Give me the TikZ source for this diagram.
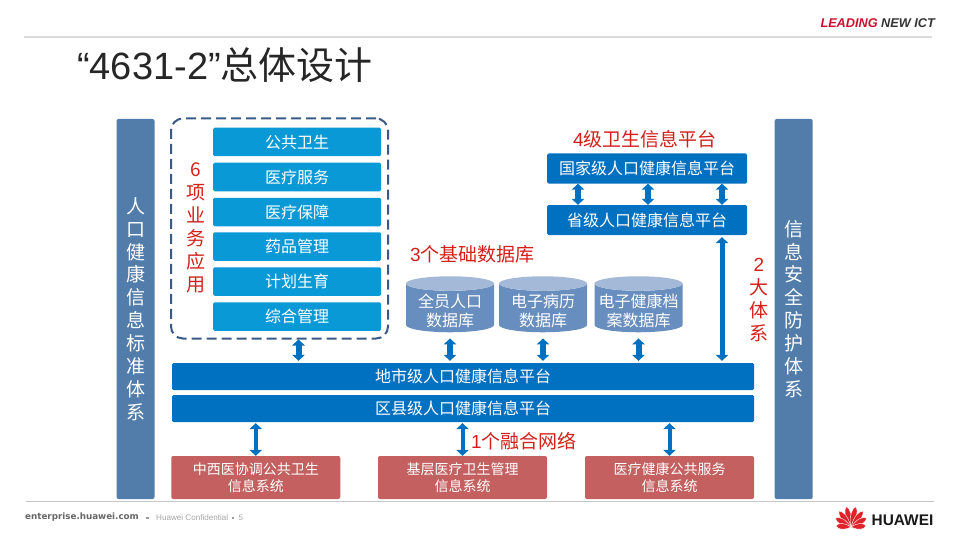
\documentclass[tikz,border=0pt]{standalone}
\usepackage{fontspec}
\setmainfont{Liberation Sans}
\newfontfamily\cjk{Noto Sans CJK SC}
\newfontfamily\webfont{DejaVu Sans}
\usepackage{xcolor}
\usetikzlibrary{positioning, shapes.geometric, arrows.meta}
\definecolor{barblue}{HTML}{527DAB}
\definecolor{taskblue}{HTML}{0899D6}
\definecolor{platblue}{HTML}{0070C0}
\definecolor{sysred}{HTML}{C46060}
\definecolor{labelred}{HTML}{D2201A}
\definecolor{dashblue}{HTML}{3A5A85}
\definecolor{cylbody}{HTML}{688EBF}
\definecolor{cyltop}{HTML}{A4B9D8}
\definecolor{rulegray}{HTML}{DCDCDC}
\definecolor{sloganred}{HTML}{C8102E}
\definecolor{logored}{HTML}{E0232B}
\newcommand{\px}[2]{\fontsize{#1}{#2}\selectfont}
\newcommand{\dbspace}{\phantom{\rule{66pt}{34pt}}}
\begin{document}
\begin{tikzpicture}[
  x=1pt, y=-1pt,
  bar/.style={fill=barblue, rounded corners=2pt, minimum width=38pt, minimum height=380pt,
              inner sep=0pt, align=center, text=white, font=\px{19}{22.9}\cjk},
  task/.style={fill=taskblue, rounded corners=1.5pt, minimum width=168pt, minimum height=28.5pt,
               inner sep=0pt, text=white, font=\px{16}{19}\cjk},
  plat/.style={fill=platblue, rounded corners=1.5pt, minimum height=30pt,
               inner sep=0pt, text=white, font=\px{16}{19}\cjk},
  sys/.style={fill=sysred, rounded corners=2pt, minimum width=169pt, minimum height=43pt,
              inner sep=0pt, align=center, text=white, font=\px{14}{17}\cjk},
  db/.style={cylinder, shape border rotate=90, aspect=0.22, cylinder uses custom fill,
             cylinder body fill=cylbody, cylinder end fill=cyltop, minimum width=88pt,
             minimum height=56pt, inner sep=0pt},
  dbtext/.style={inner sep=0pt, align=center, text=white, font=\px{16}{19}\cjk},
  note/.style={text=labelred, inner sep=0pt, font=\px{19}{23}\cjk},
  darr/.style={{Triangle[length=6pt,width=12.5pt]}-{Triangle[length=6pt,width=12.5pt]},
               draw=platblue, fill=platblue, line width=#1},
  darr/.default=6pt,
]
%% Header and footer
\node[anchor=east, inner sep=0pt, font=\px{12.7}{14}\bfseries\itshape] at (935,23) (slogan)
  {\textcolor{sloganred}{LEADING} \textcolor{black!80}{NEW ICT}};
\coordinate (topl) at (24,37);
\coordinate (topr) at (932,37);
\draw[rulegray, line width=1.6pt] (topl) -- (topr);
\node[anchor=west, inner sep=0pt, text=black!85, font=\px{38}{40}] at (77,65) (title)
  {“4631-2”{\cjk 总体设计}};
\coordinate (botl) at (26,501.5);
\coordinate (botr) at (934,501.5);
\draw[black!22, line width=1pt] (botl) -- (botr);
\node[anchor=west, inner sep=0pt, text=black!60, font=\px{8.75}{11}\webfont\bfseries] at (25,517) (web)
  {enterprise.huawei.com};
\node[anchor=west, inner sep=0pt, text=black!35, font=\px{8.1}{9}] at (156,518) (conf)
  {Huawei Confidential};
\node[anchor=west, inner sep=0pt, text=black!35, font=\px{8}{9}] at (238.5,518) (pageno) {5};
\fill[black!40] (146,516.5) rectangle (148.5,519);
\fill[black!40] (231.5,516.5) rectangle (234,519);
%% Logo
\foreach \ang/\len in {13/21, 37/20, 60/18, 86/15, -13/21, -37/20, -60/18, -86/15}
  \filldraw[logored, draw=white, line width=0.4pt, shift={(851,527)}, rotate=\ang]
    (0,0) .. controls (-4.5,-0.55*\len) and (-3.2,-0.85*\len) .. (0,-\len)
          .. controls (3.2,-0.85*\len) and (4.5,-0.55*\len) .. (0,0);
\node[anchor=west, inner sep=0pt, text=black!90, font=\px{15.4}{16}\bfseries] at (871.5,520) (brand) {HUAWEI};
%% Side bars
\node[bar] at (135.5,309) (stdbar) {人\\口\\健\\康\\信\\息\\标\\准\\体\\系};
\node[bar] at (793.7,309) (secbar) {信\\息\\安\\全\\防\\护\\体\\系};
%% Business applications
\node[draw=dashblue, line width=2pt, dash pattern=on 10pt off 5pt, rounded corners=12pt,
      minimum width=217pt, minimum height=220pt] at (279.5,228.5) (apps) {};
\node[task] at (297,142)   (t1) {公共卫生};
\node[task] at (297,177)   (t2) {医疗服务};
\node[task] at (297,212)   (t3) {医疗保障};
\node[task] at (297,246.5) (t4) {药品管理};
\node[task] at (297,281.5) (t5) {计划生育};
\node[task] at (297,316.5) (t6) {综合管理};
\node[note, align=center] at (196,228) (applabel) {6\\项\\业\\务\\应\\用};
%% Upper platforms
\node[note] at (645,139) (lvllabel) {{\rmfamily 4}级卫生信息平台};
\node[plat, minimum width=200pt] at (647,168.5) (nat)  {国家级人口健康信息平台};
\node[plat, minimum width=200pt] at (647,220)   (prov) {省级人口健康信息平台};
\draw[darr] ([xshift=-69pt]nat.south) -- ([xshift=-69pt]prov.north);
\draw[darr] ([xshift=1pt]nat.south)   -- ([xshift=1pt]prov.north);
\draw[darr] ([xshift=75pt]nat.south)  -- ([xshift=75pt]prov.north);
%% Databases
\node[note] at (472.5,254) (dblabel) {{\rmfamily 3}个基础数据库};
\node[db] at (450,308)   (dba) {\dbspace};
\node[db] at (543,308)   (dbb) {\dbspace};
\node[db] at (638.5,308) (dbc) {\dbspace};
\node[dbtext] at (450,311)   (dbatext) {全员人口\\数据库};
\node[dbtext] at (543,311)   (dbbtext) {电子病历\\数据库};
\node[dbtext] at (638.5,311) (dbctext) {电子健康档\\案数据库};
%% Lower platforms
\node[plat, minimum width=582pt, minimum height=27pt] at (463,376.5) (city)   {地市级人口健康信息平台};
\node[plat, minimum width=582pt, minimum height=27pt] at (463,408.5) (county) {区县级人口健康信息平台};
\draw[darr, shorten >=2pt] ([xshift=19pt]apps.south) -- ([xshift=19pt]apps.south |- city.north);
\draw[darr, shorten <=6pt, shorten >=2pt] (dba.south) -- (dba.south |- city.north);
\draw[darr, shorten <=6pt, shorten >=2pt] (dbb.south) -- (dbb.south |- city.north);
\draw[darr, shorten <=6pt, shorten >=2pt] (dbc.south) -- (dbc.south |- city.north);
\draw[darr=5pt, shorten <=2pt, shorten >=2pt] ([xshift=75pt]prov.south) -- ([xshift=75pt]prov.south |- city.north);
\node[note] at (524,441) (netlabel) {{\rmfamily 1}个融合网络};
\node[note, align=center] at (759,300) (syslabel) {{\rmfamily 2}\\大\\体\\系};
%% Information systems
\node[sys] at (255.75,477.5) (sysa) {中西医协调公共卫生\\信息系统};
\node[sys] at (462.5,477.5)  (sysb) {基层医疗卫生管理\\信息系统};
\node[sys] at (669.5,477.5)  (sysc) {医疗健康公共服务\\信息系统};
\draw[darr=4pt, shorten >=1pt] (sysa.north) -- (sysa.north |- county.south);
\draw[darr=4pt, shorten >=1pt] (sysb.north) -- (sysb.north |- county.south);
\draw[darr=4pt, shorten >=1pt] (sysc.north) -- (sysc.north |- county.south);
\useasboundingbox (0,0) rectangle (960,540);
\end{tikzpicture}
\end{document}
